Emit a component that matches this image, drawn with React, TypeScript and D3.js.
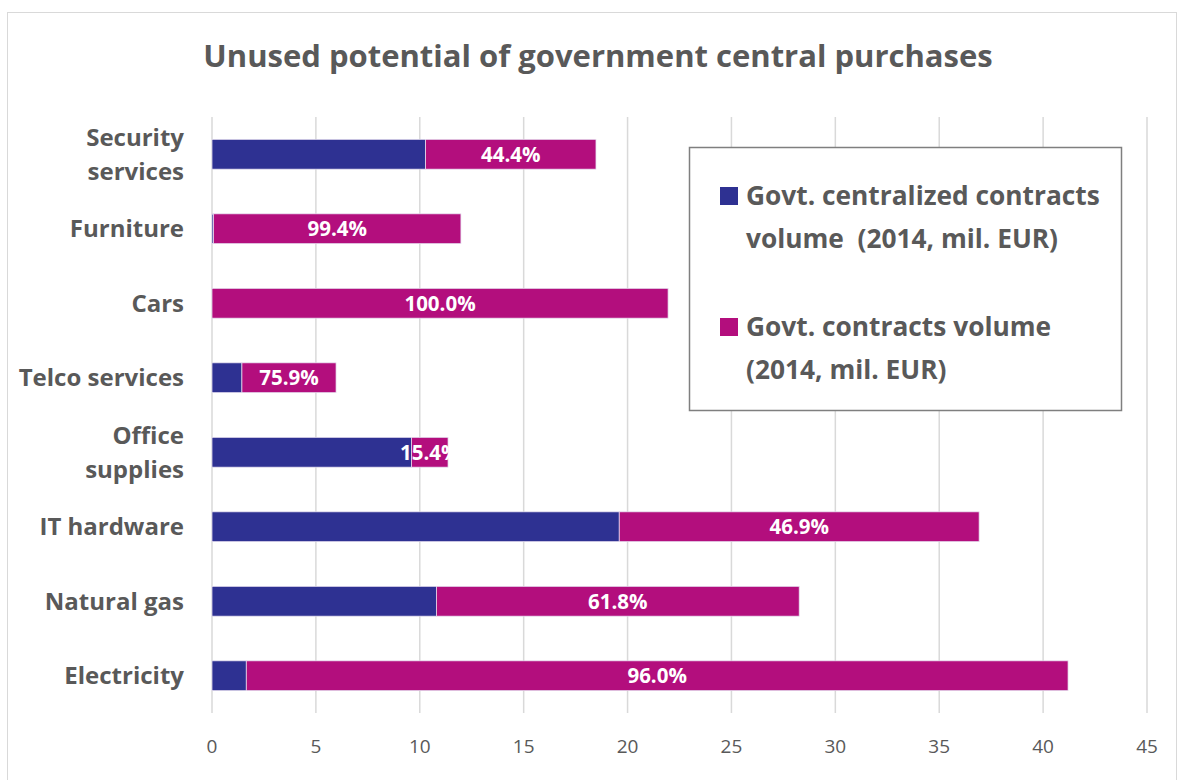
import React from 'react';
import * as d3 from 'd3';

// categories, top to bottom
const categories = [
  'Security services',
  'Furniture',
  'Cars',
  'Telco services',
  'Office supplies',
  'IT hardware',
  'Natural gas',
  'Electricity',
];
// how the category labels wrap
const categoryLines = [
  ['Security', 'services'],
  ['Furniture'],
  ['Cars'],
  ['Telco services'],
  ['Office', 'supplies'],
  ['IT hardware'],
  ['Natural gas'],
  ['Electricity'],
];

// Govt. centralized contracts volume (2014, mil. EUR)
const centralized = [10.28, 0.07, 0, 1.44, 9.6, 19.6, 10.8, 1.65];
// rest of govt. contracts volume (2014, mil. EUR)
const remaining = [8.2, 11.91, 21.95, 4.53, 1.76, 17.32, 17.46, 39.55];
// data labels on the magenta segment
const pctLabels = ['44.4%', '99.4%', '100.0%', '75.9%', '15.4%', '46.9%', '61.8%', '96.0%'];

const xTicks = [0, 5, 10, 15, 20, 25, 30, 35, 40, 45];

const seriesNames = [
  ['Govt. centralized contracts', 'volume  (2014, mil. EUR)'],
  ['Govt. contracts volume', '(2014, mil. EUR)'],
];

const BLUE = '#2E3192';
const MAGENTA = '#B30E7D';
const TEXT = '#595959';
const FONT = '"Open Sans", Lato, sans-serif';

const W = 1178;
const H = 780;
const margin = { left: 212, right: 31, top: 117, bottom: 67 };

export default function App() {
  React.useEffect(() => {
    document.body.style.margin = '0';
  }, []);

  const x = d3.scaleLinear().domain([0, 45]).range([margin.left, W - margin.right]);
  const y = d3
    .scaleBand<string>()
    .domain(categories)
    .range([margin.top, H - margin.bottom])
    .paddingInner(0.6)
    .paddingOuter(0.3);

  const rows = categories.map((c, i) => ({ cat: c, a: centralized[i], b: remaining[i] }));
  const stacked = d3.stack<any>().keys(['a', 'b'])(rows);
  const colors = [BLUE, MAGENTA];

  return (
    <svg width={W} height={H} style={{ display: 'block', fontFamily: FONT }}>
      <rect x={0} y={0} width={W} height={H} fill="white" />
      <rect x={7.5} y={12.5} width={1169} height={790} fill="white" stroke="#D9D9D9" />

      <text x={598} y={67} textAnchor="middle" fontSize={31} fontWeight="bold" fill={TEXT}>
        Unused potential of government central purchases
      </text>

      {/* gridlines */}
      {xTicks.map(t => (
        <line
          key={t}
          x1={x(t)}
          x2={x(t)}
          y1={margin.top}
          y2={H - margin.bottom}
          stroke="#D9D9D9"
          strokeWidth={1.5}
        />
      ))}

      {/* tick labels */}
      {xTicks.map(t => (
        <text key={t} x={x(t)} y={753} textAnchor="middle" fontSize={19} fill={TEXT}>
          {t}
        </text>
      ))}

      {/* bars */}
      {stacked.map((s, si) =>
        s.map((d, i) => (
          <rect
            key={si + '-' + i}
            x={x(d[0])}
            y={y(categories[i])}
            width={Math.max(0, x(d[1]) - x(d[0]))}
            height={y.bandwidth()}
            fill={colors[si]}
            stroke="#E6E0F0"
            strokeWidth={0.75}
          />
        ))
      )}

      {/* data labels */}
      {stacked[1].map((d, i) => (
        <text
          key={i}
          x={(x(d[0]) + x(d[1])) / 2}
          y={(y(categories[i]) as number) + y.bandwidth() / 2 + 7.5}
          textAnchor="middle"
          fontSize={20.5}
          fontWeight="bold"
          fill="white"
        >
          {pctLabels[i]}
        </text>
      ))}

      {/* category labels */}
      {categories.map((c, i) => {
        const lines = categoryLines[i];
        const cy = (y(c) as number) + y.bandwidth() / 2;
        const lh = 34;
        return (
          <text key={c} textAnchor="end" fontSize={24} fontWeight="bold" fill={TEXT}>
            {lines.map((l, j) => (
              <tspan key={j} x={184} y={cy + 8.5 + (j - (lines.length - 1) / 2) * lh}>
                {l}
              </tspan>
            ))}
          </text>
        );
      })}

      {/* legend */}
      <rect x={689.5} y={147.5} width={432} height={263} fill="white" stroke="#7F7F7F" strokeWidth={1.5} />
      {seriesNames.map((lines, i) => {
        const ty = 196 + i * 131;
        return (
          <g key={i}>
            <rect x={720} y={ty - 9} width={18} height={18} fill={colors[i]} />
            <text fontSize={26.3} fontWeight="bold" fill={TEXT} style={{ whiteSpace: 'pre' }}>
              {lines.map((l, j) => (
                <tspan key={j} x={746} y={ty + 9 + j * 43}>
                  {l}
                </tspan>
              ))}
            </text>
          </g>
        );
      })}
    </svg>
  );
}
